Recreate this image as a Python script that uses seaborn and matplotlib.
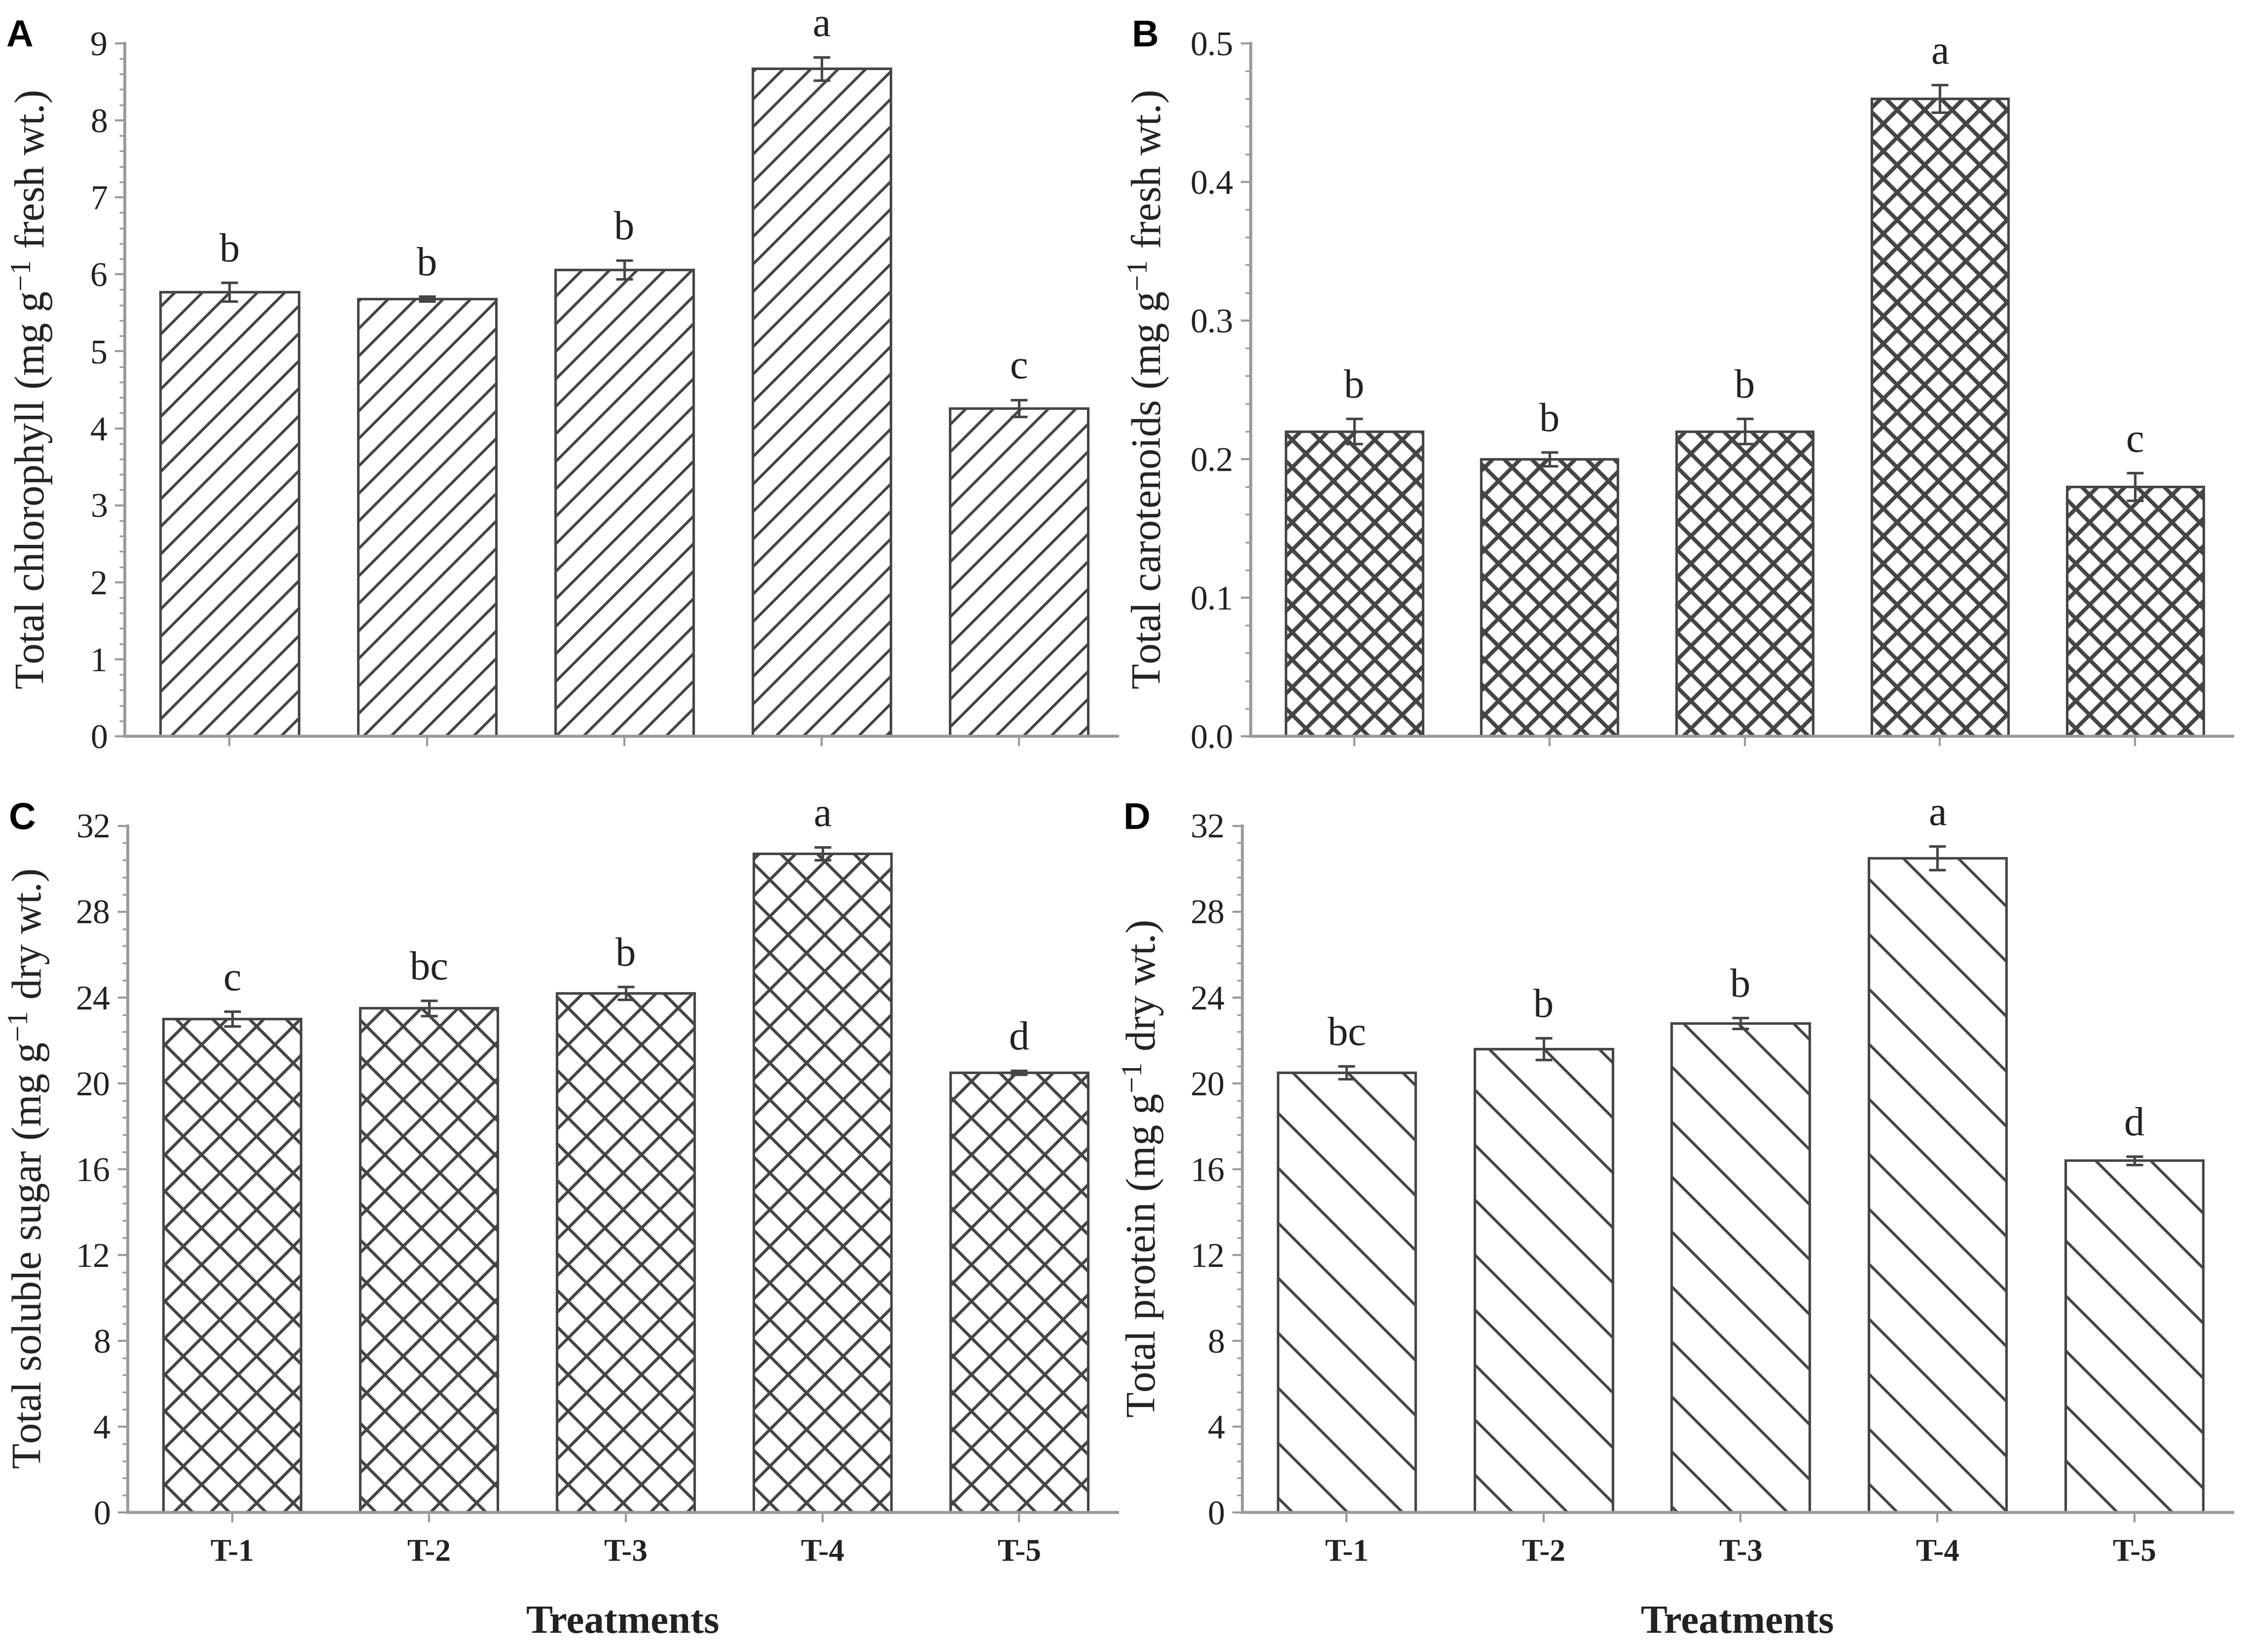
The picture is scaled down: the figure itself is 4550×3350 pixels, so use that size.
import numpy as np
import pandas as pd
import matplotlib
matplotlib.use("Agg")
import matplotlib.pyplot as plt
from matplotlib.ticker import MultipleLocator, AutoMinorLocator, FormatStrFormatter
import seaborn as sns

treatments = ["T-1", "T-2", "T-3", "T-4", "T-5"]

chlorophyll = [5.77, 5.68, 6.06, 8.67, 4.26]
chlorophyll_err = [0.12, 0.03, 0.12, 0.15, 0.11]
chlorophyll_sig = ["b", "b", "b", "a", "c"]

carotenoids = [0.22, 0.20, 0.22, 0.46, 0.18]
carotenoids_err = [0.009, 0.005, 0.009, 0.010, 0.010]
carotenoids_sig = ["b", "b", "b", "a", "c"]

sugar = [23.0, 23.5, 24.2, 30.7, 20.5]
sugar_err = [0.35, 0.35, 0.3, 0.3, 0.1]
sugar_sig = ["c", "bc", "b", "a", "d"]

protein = [20.5, 21.6, 22.8, 30.5, 16.4]
protein_err = [0.3, 0.5, 0.25, 0.55, 0.2]
protein_sig = ["bc", "b", "b", "a", "d"]

# figure width in inches sets the hatch density (matplotlib hatches are per inch)
W = 6.8
S = W / 7.5
DPI = 4550 / W

sns.set_theme(style="ticks")
plt.rcParams["font.family"] = ["Liberation Serif", "DejaVu Serif"]
plt.rcParams["mathtext.fontset"] = "custom"
plt.rcParams["mathtext.rm"] = "Liberation Serif"
plt.rcParams["mathtext.it"] = "Liberation Serif:italic"

SPINE = "#9a9a9a"
EDGE = "#454545"
TEXT = "#222222"

fig = plt.figure(figsize=(W, 3350 / 4550 * W), dpi=DPI)


def panel(rect, values, errs, sig, ylabel, ymax, major, hatch, letter, show_x,
          hatch_lw, label_x):
    plt.rcParams["hatch.linewidth"] = hatch_lw
    ax = fig.add_axes(rect)
    df = pd.DataFrame({"treatment": treatments, "value": values})
    sns.barplot(data=df, x="treatment", y="value", color="white", saturation=1,
                edgecolor=EDGE, linewidth=0.6 * S, hatch=hatch, width=0.7,
                errorbar=None, ax=ax)
    for p in ax.patches:
        if hasattr(p, "set_hatch_linewidth"):
            p.set_hatch_linewidth(hatch_lw)
    ax.errorbar(np.arange(len(values)), values, yerr=errs, fmt="none",
                ecolor=EDGE, elinewidth=0.6 * S, capsize=2.0 * S, capthick=0.6 * S)
    for i, (v, e, s) in enumerate(zip(values, errs, sig)):
        ax.text(i, v + e + ymax * 0.018, s, ha="center", va="bottom",
                fontsize=9.8 * S, color=TEXT, clip_on=False)
    ax.set_xlim(-0.53, 4.5)
    ax.set_ylim(0, ymax)
    ax.yaxis.set_major_locator(MultipleLocator(major))
    ax.yaxis.set_minor_locator(AutoMinorLocator(5))
    if major < 1:
        ax.yaxis.set_major_formatter(FormatStrFormatter("%.1f"))
    for side in ["top", "right"]:
        ax.spines[side].set_visible(False)
    for side in ["left", "bottom"]:
        ax.spines[side].set_color(SPINE)
        ax.spines[side].set_linewidth(0.7 * S)
    ax.tick_params(axis="both", which="major", length=2.4 * S, width=0.5 * S,
                   color=SPINE, labelsize=8.3 * S, labelcolor=TEXT, pad=1.8 * S)
    ax.tick_params(axis="y", which="minor", length=1.3 * S, width=0.4 * S, color=SPINE)
    ax.set_ylabel(ylabel, fontsize=10 * S, color=TEXT)
    ax.yaxis.set_label_coords(label_x, 0.5)
    if show_x:
        ax.set_xticks(range(len(treatments)))
        ax.set_xticklabels(treatments, fontsize=7.5 * S, fontweight="bold")
        ax.tick_params(axis="x", pad=4 * S)
        ax.set_xlabel("Treatments", fontsize=9.6 * S, fontweight="bold",
                      color=TEXT, labelpad=9 * S)
    else:
        ax.set_xticklabels([])
        ax.set_xlabel("")
    fig.text(rect[0] - 0.053, rect[1] + rect[3] + 0.004, letter,
             fontsize=9 * S, fontweight="bold", family="Liberation Sans",
             ha="left", va="center", color="black")
    return ax


panel([0.0557, 0.5543, 0.4423, 0.4195], chlorophyll, chlorophyll_err, chlorophyll_sig,
      r"Total chlorophyll (mg g$^{-1}$ fresh wt.)", 9, 1, "////", "A", False, 0.6, -0.072)
panel([0.5574, 0.5543, 0.4376, 0.4195], carotenoids, carotenoids_err, carotenoids_sig,
      r"Total carotenoids (mg g$^{-1}$ fresh wt.)", 0.5, 0.1, "xxxx", "B", False, 0.85, -0.082)
panel([0.0570, 0.0845, 0.4410, 0.4156], sugar, sugar_err, sugar_sig,
      r"Total soluble sugar (mg g$^{-1}$ dry wt.)", 32, 4, "xxx", "C", True, 0.65, -0.078)
panel([0.5536, 0.0845, 0.4414, 0.4156], protein, protein_err, protein_sig,
      r"Total protein (mg g$^{-1}$ dry wt.)", 32, 4, "\\\\", "D", True, 0.6, -0.078)

fig.savefig("out.png", dpi=DPI, facecolor="white")
